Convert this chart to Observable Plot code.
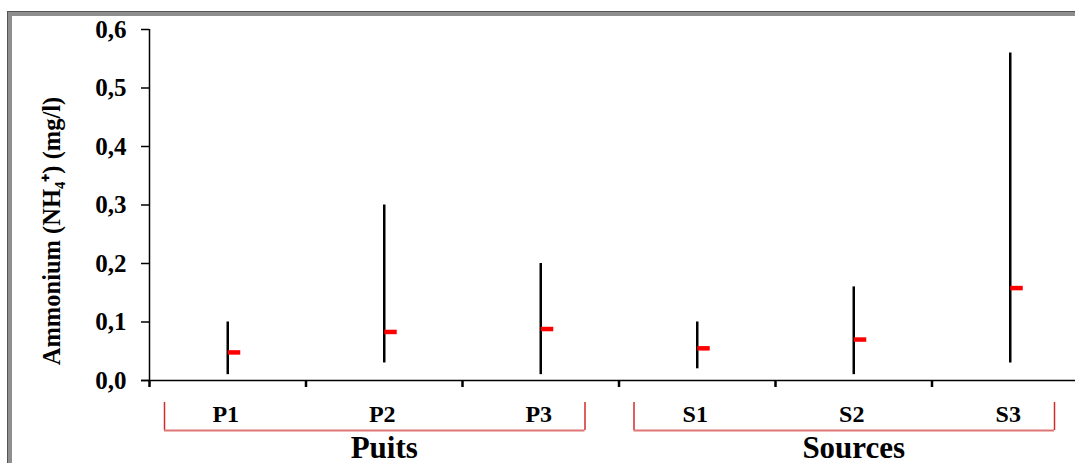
<!DOCTYPE html>
<html><head><meta charset="utf-8">
<script src="https://cdn.jsdelivr.net/npm/d3@7"></script>
<script src="https://cdn.jsdelivr.net/npm/@observablehq/plot@0.6"></script>
<style>
html,body{margin:0;padding:0;background:#fff}
body{width:1075px;height:463px;overflow:hidden;position:relative}
#frame{position:absolute;left:8px;top:12px;width:1200px;height:600px;border-left:4px solid #8f8f8f;border-top:4px solid #8f8f8f;box-shadow:-1px -1px 0 #555}
#chart{position:absolute;left:0;top:0}
</style></head><body><div id="frame"></div><div id="chart"></div>
<script>
// ---- data ----
const sites = ["P1", "P2", "P3", "S1", "S2", "S3"];
const minVals = [0.01, 0.03, 0.01, 0.02, 0.01, 0.03];
const maxVals = [0.10, 0.30, 0.20, 0.10, 0.16, 0.56];
const meanVals = [0.048, 0.083, 0.088, 0.055, 0.070, 0.158];
const siteGroup = ["Puits", "Puits", "Puits", "Sources", "Sources", "Sources"];
const groupNames = ["Puits", "Sources"];
const yTicks = [0, 0.1, 0.2, 0.3, 0.4, 0.5, 0.6];
const yLabel = "Ammonium (NH₄⁺) (mg/l)";

// ---- tables built from the arrays ----
const rows = sites.map((s, i) => ({site: s, i, min: minVals[i], max: maxVals[i], mean: meanVals[i]}));
const groups = groupNames.map(g => {
  const idx = sites.map((s, i) => i).filter(i => siteGroup[i] === g);
  const a = d3.min(idx), b = d3.max(idx);
  return {name: g, start: a - 0.5, end: b + 0.5, mid: (a + b) / 2};
});
const xDomain = [-0.5, sites.length - 0.5];
const boundaries = d3.range(sites.length + 1).map(i => i - 0.5);

const serif = "'Liberation Serif', 'Times New Roman', Times, serif";
const redDark = "#d42a2a", redLight = "#e07575";

const chart = Plot.plot({
  width: 1075,
  height: 463,
  marginLeft: 149,
  marginTop: 29,
  marginBottom: 83,
  marginRight: 0,
  style: {fontFamily: serif, background: "transparent", color: "black"},
  x: {type: "linear", domain: xDomain, range: [149, 1088], axis: null},
  y: {domain: [0, 0.6], range: [380, 29], axis: null},
  marks: [
    // y axis
    Plot.axisY(yTicks, {
      anchor: "left", tickSize: 8, tickPadding: 15, strokeWidth: 1.5,
      tickFormat: d => d.toFixed(1).replace(".", ","),
      fontSize: 25, fontWeight: "bold", label: null
    }),
    Plot.ruleX([xDomain[0]], {y1: 0, y2: 0.6, stroke: "black", strokeWidth: 1.5}),
    // x axis line
    Plot.ruleY([0], {insetLeft: -8, stroke: "black", strokeWidth: 1.5}),
    // category boundary ticks
    Plot.ruleX(boundaries, {x: d => d, y1: 0, y2: 0, insetBottom: -7, stroke: "black", strokeWidth: 2.5}),
    // min-max ranges
    Plot.ruleX(rows, {x: "i", y1: "min", y2: "max", stroke: "black", strokeWidth: 2.5}),
    // means
    Plot.ruleY(rows, {y: "mean", x1: "i", x2: "i", insetLeft: 0.5, insetRight: -13, stroke: "#ff0000", strokeWidth: 4.5}),
    // category labels
    Plot.text(rows, {x: "i", y: 0, text: "site", dy: 41.5, dx: -2, lineAnchor: "bottom", fontSize: 24, fontWeight: "bold", fill: "black"}),
    // group brackets
    Plot.ruleX(groups, {x: "start", y1: 0, y2: 0, dx: 15, insetTop: 22, insetBottom: -50, stroke: redDark, strokeWidth: 1.5}),
    Plot.ruleX(groups, {x: "end", y1: 0, y2: 0, dx: -34, insetTop: 22, insetBottom: -50, stroke: redDark, strokeWidth: 1.5}),
    Plot.ruleY(groups, {y: 0, x1: "start", x2: "end", dy: 50, insetLeft: 15, insetRight: 34, stroke: redLight, strokeWidth: 2}),
    // group labels
    Plot.text(groups, {x: "mid", y: 0, text: "name", dy: 77, lineAnchor: "bottom", fontSize: 31, fontWeight: "bold", fill: "black"}),
    // y label
    Plot.text([yLabel], {text: d => d, frameAnchor: "left", textAnchor: "middle", lineAnchor: "middle", rotate: -90, dx: -97, dy: 26, fontSize: 24.5, fontWeight: "bold", fill: "black"})
  ]
});
document.getElementById("chart").appendChild(chart);
</script>
</body></html>
